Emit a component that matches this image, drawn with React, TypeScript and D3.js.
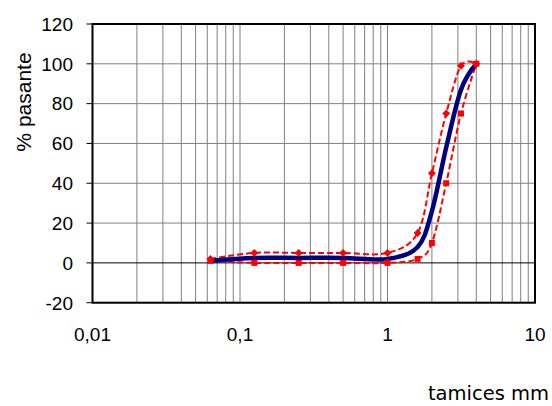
import React from "react";
import * as d3 from "d3";

const sieves = [0.063, 0.125, 0.25, 0.5, 1, 1.6, 2, 2.5, 3.15, 4];
const blueValues = [1, 2.5, 2.5, 2.5, 2, 8, 26, 58, 87, 100];
const upperValues = [2, 5, 5, 5, 5, 15, 45, 75, 99, 100];
const lowerValues = [1, 0, 0, 0, 0, 2, 10, 40, 75, 100];
const yTicks = [-20, 0, 20, 40, 60, 80, 100, 120];
const xTickValues = [0.01, 0.1, 1, 10];
const xTickLabels = ["0,01", "0,1", "1", "10"];

const W = 552;
const H = 406;
const L = 92.5;
const R = 535;
const T = 24;
const B = 302.7;

export default function App() {
  const x = d3.scaleLog().domain([0.01, 10]).range([L, R]);
  const y = d3.scaleLinear().domain([-20, 120]).range([B, T]);
  const gridX = x.ticks().filter((v) => v > 0.0100001 && v < 9.9999);
  const line = d3
    .line<[number, number]>()
    .x((d) => x(d[0]))
    .y((d) => y(d[1]))
    .curve(d3.curveCatmullRom.alpha(0));
  const pts = (vals: number[]) => sieves.map((s, i) => [s, vals[i]] as [number, number]);
  const font = "'Liberation Sans', Arial, sans-serif";
  return (
    <svg width={W} height={H} style={{ position: "absolute", left: 0, top: 0 }}>
      <rect x={0} y={0} width={W} height={H} fill="#fff" />
      {gridX.map((v) => (
        <line key={"gx" + v} x1={x(v)} x2={x(v)} y1={T} y2={B} stroke="#808080" strokeWidth={1} />
      ))}
      {yTicks.map((v) => (
        <line key={"gy" + v} x1={L} x2={R} y1={y(v)} y2={y(v)} stroke={v === 0 ? "#000" : "#808080"} strokeWidth={1} />
      ))}
      {yTicks.map((v) => (
        <line key={"ty" + v} x1={L - 6} x2={L} y1={y(v)} y2={y(v)} stroke="#000" strokeWidth={1} />
      ))}
      <rect x={L} y={T} width={R - L} height={B - T} fill="none" stroke="#000" strokeWidth={2} />
      <path d={line(pts(upperValues)) || ""} fill="none" stroke="#ff0000" strokeWidth={2} strokeDasharray="6,3" />
      <path d={line(pts(lowerValues)) || ""} fill="none" stroke="#ff0000" strokeWidth={2} strokeDasharray="6,3" />
      <path d={line(pts(blueValues)) || ""} fill="none" stroke="#000080" strokeWidth={4.5} />
      {sieves.map((s, i) => (
        <rect key={"u" + i} x={-2.8} y={-2.8} width={5.6} height={5.6} fill="#ff0000"
          transform={`translate(${x(s)},${y(upperValues[i])}) rotate(45)`} />
      ))}
      {sieves.map((s, i) => (
        <rect key={"l" + i} x={x(s) - 3} y={y(lowerValues[i]) - 3} width={6} height={6} fill="#ff0000" />
      ))}
      {yTicks.map((v) => (
        <text key={"yl" + v} x={73} y={y(v)} dy="0.36em" textAnchor="end" fontSize={19} fontFamily={font} fill="#000">
          {v}
        </text>
      ))}
      {xTickValues.map((v, i) => (
        <text key={"xl" + v} x={x(v)} y={341} textAnchor="middle" fontSize={19} fontFamily={font} fill="#000">
          {xTickLabels[i]}
        </text>
      ))}
      <text transform={`translate(31,102) rotate(-90)`} textAnchor="middle" fontSize={21} fontFamily={font} fill="#000">
        % pasante
      </text>
      <text x={549} y={400} textAnchor="end" fontSize={19.5} fontFamily="'DejaVu Sans', sans-serif" fill="#000">
        tamices mm
      </text>
    </svg>
  );
}
